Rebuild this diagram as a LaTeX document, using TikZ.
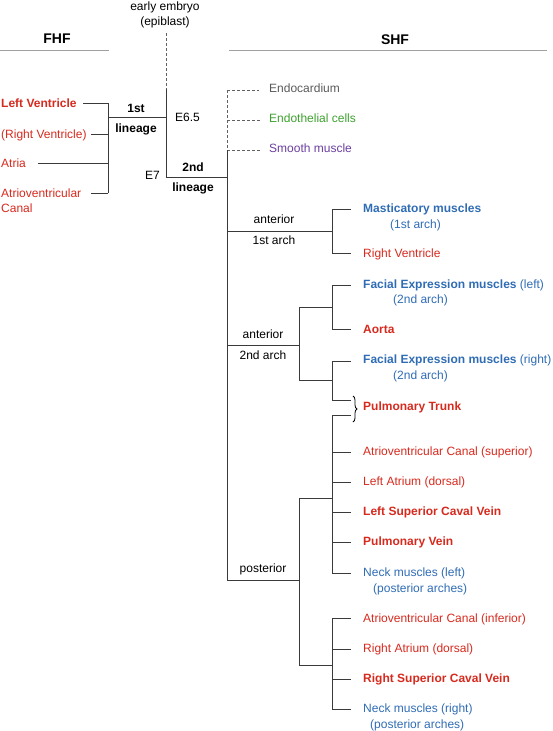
\documentclass[tikz,border=0pt]{standalone}
\usepackage{fontspec}
\setmainfont{Liberation Sans}
\usetikzlibrary{decorations.pathreplacing}
\definecolor{cred}{HTML}{D62A1E}
\definecolor{cblue}{HTML}{2F6CB4}
\definecolor{cgreen}{HTML}{3DA12E}
\definecolor{cpurple}{HTML}{6A3F9E}
\definecolor{cgraytext}{HTML}{5A5A5A}
\definecolor{cline}{HTML}{3A3A3A}
\definecolor{chead}{HTML}{A0A0A0}
\tikzset{
  lbl/.style={inner sep=0pt, text height=8.6pt, text depth=0pt, anchor=west, font=\fontsize{12}{14}\selectfont},
  clbl/.style={lbl, anchor=center},
  head/.style={inner sep=0pt, anchor=center, font=\fontsize{14}{16}\selectfont\bfseries},
  tree/.style={draw=cline, line width=1pt},
  dtree/.style={draw=cline!80, line width=1pt, dash pattern=on 3pt off 2pt},
  hline/.style={draw=chead, line width=1pt},
  rb/.style={lbl, text=cred, font=\fontsize{12}{14}\selectfont\bfseries},
  rn/.style={lbl, text=cred},
  bl/.style={lbl, text=cblue},
}
\begin{document}
\begin{tikzpicture}[x=1pt,y=-1pt]
\useasboundingbox (0,0) rectangle (553,731);
% headers
\node[clbl] (ee1) at (165,6) {early embryo};
\node[clbl] (ee2) at (165,21) {(epiblast)};
\node[head] (fhf) at (57,39) {FHF};
\node[head] (shf) at (395,40) {SHF};
\coordinate (hl1) at (0,50.5); \coordinate (hl2) at (109,50.5);
\coordinate (hr1) at (229,50.5); \coordinate (hr2) at (547,50.5);
\draw[hline] (hl1) -- (hl2);
\draw[hline] (hr1) -- (hr2);
% FHF side
\node[rb] (lv) at (1,103) {Left Ventricle};
\node[rn] (rv) at (1,134) {(Right Ventricle)};
\node[rn] (at) at (1,163) {Atria};
\node[rn] (avc1) at (1,193) {Atrioventricular};
\node[rn] (avc2) at (1,208) {Canal};
\coordinate (f1) at (108,103); \coordinate (f2) at (108,134);
\coordinate (f3) at (108,163); \coordinate (f4) at (108,193);
\coordinate (fm) at (108,117.5);
\coordinate (t1) at (83,103); \coordinate (t2) at (91,134);
\coordinate (t3) at (38,163); \coordinate (t4) at (91,193);
\draw[tree] (f1) -- (f4);
\draw[tree] (t1) -- (f1);
\draw[tree] (t2) -- (f2);
\draw[tree] (t3) -- (f3);
\draw[tree] (t4) -- (f4);
% central stem
\coordinate (c0) at (166,33); \coordinate (c1) at (166,89);
\coordinate (c2) at (166,117.5); \coordinate (c3) at (166,177);
\draw[dtree] (c0) -- (c1);
\draw[tree] (c1) -- (c3);
\draw[tree] (fm) -- (c2);
\node[lbl, font=\fontsize{12}{14}\selectfont\bfseries, anchor=center] (l1a) at (136,108) {1st};
\node[lbl, font=\fontsize{12}{14}\selectfont\bfseries, anchor=center] (l1b) at (136,128) {lineage};
\node[lbl] (e65) at (175,117) {E6.5};
\node[lbl] (e7) at (145,175) {E7};
\node[lbl, font=\fontsize{12}{14}\selectfont\bfseries, anchor=center] (l2a) at (193,167) {2nd};
\node[lbl, font=\fontsize{12}{14}\selectfont\bfseries, anchor=center] (l2b) at (193,187) {lineage};
% SHF stem
\coordinate (s0) at (227,177);
\coordinate (d0) at (227,90); \coordinate (d1) at (227,120); \coordinate (d2) at (227,150);
\coordinate (d0e) at (259,90); \coordinate (d1e) at (261,120); \coordinate (d2e) at (261,150);
\coordinate (sb) at (227,580);
\draw[tree] (c3) -- (s0);
\draw[dtree] (d0) -- (d2);
\draw[dtree] (d0) -- (d0e);
\draw[dtree] (d1) -- (d1e);
\draw[dtree] (d2) -- (d2e);
\draw[tree] (d2) -- (sb);
\node[lbl, text=cgraytext] (endo) at (269,88) {Endocardium};
\node[lbl, text=cgreen] (endt) at (269,118) {Endothelial cells};
\node[lbl, text=cpurple] (smm) at (269,148) {Smooth muscle};
% anterior 1st arch
\coordinate (a1s) at (227,231); \coordinate (a1e) at (332,231);
\coordinate (a1t) at (332,209); \coordinate (a1b) at (332,253);
\coordinate (a1tt) at (351,209); \coordinate (a1bt) at (351,253);
\draw[tree] (a1s) -- (a1e);
\draw[tree] (a1t) -- (a1b);
\draw[tree] (a1t) -- (a1tt);
\draw[tree] (a1b) -- (a1bt);
\node[clbl] (ant1) at (274,219) {anterior};
\node[clbl] (arch1) at (274,240) {1st arch};
\node[lbl, text=cblue, font=\fontsize{12}{14}\selectfont\bfseries] (mast) at (363,208) {Masticatory muscles};
\node[bl] (mast2) at (390,224) {(1st arch)};
\node[rn] (rv2) at (363,253) {Right Ventricle};
% anterior 2nd arch
\coordinate (a2s) at (227,345); \coordinate (a2e) at (299,345);
\coordinate (a2t) at (299,307); \coordinate (a2b) at (299,380);
\coordinate (u1) at (332,307); \coordinate (u1t) at (332,285); \coordinate (u1b) at (332,329);
\coordinate (u1tt) at (351,285); \coordinate (u1bt) at (351,329);
\coordinate (u2) at (332,380); \coordinate (u2t) at (332,361); \coordinate (u2b) at (332,400);
\coordinate (u2tt) at (351,361); \coordinate (u2bt) at (351,400);
\draw[tree] (a2s) -- (a2e);
\draw[tree] (a2t) -- (a2b);
\draw[tree] (a2t) -- (u1);
\draw[tree] (u1t) -- (u1b);
\draw[tree] (u1t) -- (u1tt);
\draw[tree] (u1b) -- (u1bt);
\draw[tree] (a2b) -- (u2);
\draw[tree] (u2t) -- (u2b);
\draw[tree] (u2t) -- (u2tt);
\draw[tree] (u2b) -- (u2bt);
\node[clbl] (ant2) at (263,334) {anterior};
\node[clbl] (arch2) at (263,355) {2nd arch};
\node[bl] (fel) at (363,284) {\bfseries Facial Expression muscles\mdseries{} (left)};
\node[bl] (fel2) at (393,299) {(2nd arch)};
\node[rb] (aorta) at (363,329) {Aorta};
\node[bl] (fer) at (363,359) {\bfseries Facial Expression muscles\mdseries{} (right)};
\node[bl] (fer2) at (393,375) {(2nd arch)};
\coordinate (br1) at (353,396); \coordinate (br2) at (353,422);
\draw[draw=black, line width=0.8pt, decorate, decoration={brace, amplitude=4pt}] (br1) -- (br2);
\node[rb] (pt) at (363,406) {Pulmonary Trunk};
% posterior
\coordinate (pe) at (299,580);
\coordinate (pt0) at (299,498); \coordinate (pb0) at (299,665);
\coordinate (p1) at (332,498); \coordinate (p2) at (332,665);
\draw[tree] (sb) -- (pe);
\draw[tree] (pt0) -- (pb0);
\draw[tree] (pt0) -- (p1);
\draw[tree] (pb0) -- (p2);
\node[clbl] (post) at (263,568) {posterior};
\coordinate (g1t) at (332,415); \coordinate (g1b) at (332,573);
\draw[tree] (g1t) -- (g1b);
\foreach \yy/\nm in {415/k1,452/k2,482/k3,512/k4,542/k5,573/k6}{
  \coordinate (\nm a) at (332,\yy); \coordinate (\nm b) at (351,\yy);
  \draw[tree] (\nm a) -- (\nm b);
}
\node[rn] (avcs) at (363,451) {Atrioventricular Canal (superior)};
\node[rn] (lad) at (363,481) {Left Atrium (dorsal)};
\node[rb] (lscv) at (363,511) {Left Superior Caval Vein};
\node[rb] (pv) at (363,541) {Pulmonary Vein};
\node[bl] (nml) at (363,572) {Neck muscles (left)};
\node[bl] (nml2) at (373,588) {(posterior arches)};
\coordinate (g2t) at (332,618); \coordinate (g2b) at (332,709);
\draw[tree] (g2t) -- (g2b);
\foreach \yy/\nm in {618/m1,649/m2,679/m3,709/m4}{
  \coordinate (\nm a) at (332,\yy); \coordinate (\nm b) at (351,\yy);
  \draw[tree] (\nm a) -- (\nm b);
}
\node[rn] (avci) at (363,618) {Atrioventricular Canal (inferior)};
\node[rn] (rad) at (363,648) {Right Atrium (dorsal)};
\node[rb] (rscv) at (363,678) {Right Superior Caval Vein};
\node[bl] (nmr) at (363,708) {Neck muscles (right)};
\node[bl] (nmr2) at (370,724) {(posterior arches)};
\end{tikzpicture}
\end{document}
